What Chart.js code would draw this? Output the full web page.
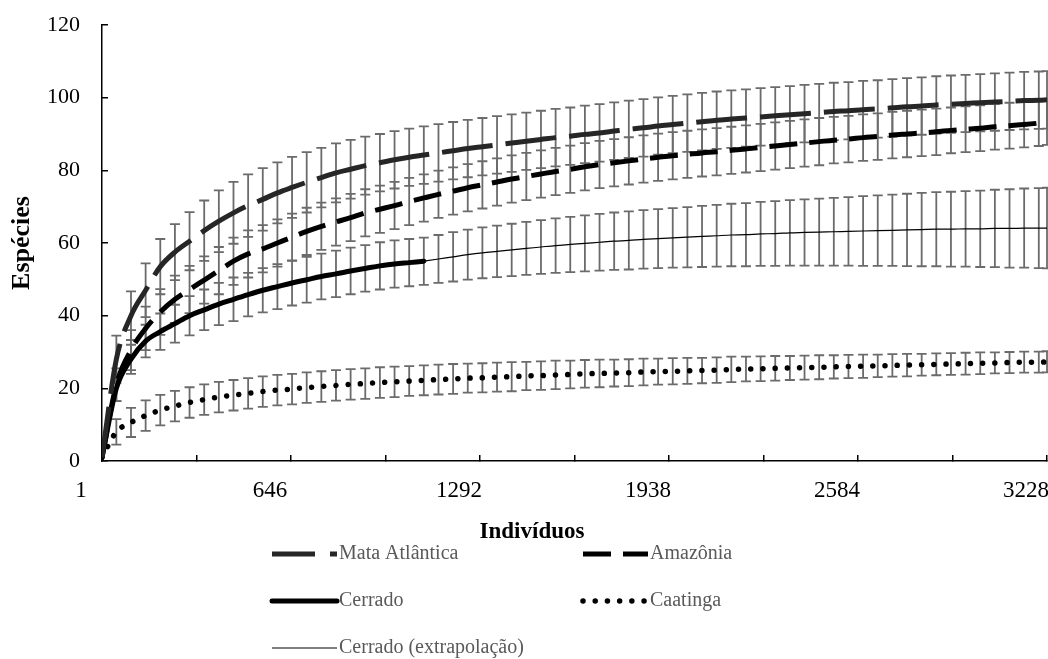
<!DOCTYPE html>
<html lang="pt">
<head>
<meta charset="utf-8">
<title>Curvas de rarefação</title>
<script src="https://cdn.jsdelivr.net/npm/chart.js@4.4.1/dist/chart.umd.min.js"></script>
<style>
    html, body { margin: 0; padding: 0; background: #fff; overflow: hidden; }
</style>
</head>
<body>
<canvas id="chart" width="1048" height="659"></canvas>
<script>
// Indivíduos amostrados (eixo x)
const individuos = [
    1, 50, 100, 150, 200, 250, 300, 350, 400, 450,
    500, 550, 600, 650, 700, 750, 800, 850, 900, 950,
    1000, 1050, 1100, 1150, 1200, 1250, 1300, 1350, 1400, 1450,
    1500, 1550, 1600, 1650, 1700, 1750, 1800, 1850, 1900, 1950,
    2000, 2050, 2100, 2150, 2200, 2250, 2300, 2350, 2400, 2450,
    2500, 2550, 2600, 2650, 2700, 2750, 2800, 2850, 2900, 2950,
    3000, 3050, 3100, 3150, 3200, 3228
];
const xTickLabels = ['1', '646', '1292', '1938', '2584', '3228'];
const yTicks = [0, 20, 40, 60, 80, 100, 120];
const xTitle = 'Indivíduos';
const yTitle = 'Espécies';

const mataAtlantica = [
    1, 28, 40, 47, 53.5, 57.5, 60.5, 63.4, 66, 68.3,
    70.3, 72, 73.8, 75.3, 76.7, 78, 79.3, 80.3, 81.3, 82.1,
    82.9, 83.6, 84.2, 84.8, 85.4, 86, 86.5, 87, 87.5, 88,
    88.5, 89, 89.4, 89.9, 90.3, 90.8, 91.3, 91.7, 92.2, 92.6,
    93, 93.4, 93.8, 94.1, 94.4, 94.7, 95, 95.3, 95.6, 95.9,
    96.2, 96.4, 96.7, 96.9, 97.2, 97.5, 97.7, 98, 98.2, 98.4,
    98.6, 98.8, 99, 99.2, 99.3, 99.4
];
const mataAtlanticaErro = [
    0, 6.5, 6.7, 7.4, 7.6, 7.7, 8, 8.3, 8.5, 8.5,
    8.6, 8.6, 8.4, 8.4, 8.3, 8.2, 8.1, 8.1, 8, 7.9,
    7.9, 7.9, 7.9, 7.9, 7.9, 7.9, 7.9, 7.9, 7.9, 7.9,
    7.9, 7.9, 7.9, 7.9, 7.9, 7.9, 7.9, 7.9, 7.9, 7.9,
    7.9, 7.9, 7.9, 7.9, 7.9, 7.9, 7.9, 7.9, 7.9, 7.9,
    7.9, 7.9, 7.9, 7.9, 7.9, 7.9, 7.9, 7.9, 7.9, 7.9,
    7.9, 7.9, 7.9, 7.9, 7.9, 7.9
];

const amazonia = [
    1, 21, 30.5, 36.5, 41, 44.5, 47.2, 49.8, 52.4, 55,
    57, 58.4, 60, 61.6, 63.2, 64.6, 65.8, 67, 68.3, 69.3,
    70.3, 71.4, 72.4, 73.4, 74.3, 75.2, 76, 76.8, 77.6, 78.3,
    79, 79.7, 80.3, 81, 81.6, 82.1, 82.6, 83.1, 83.6, 84,
    84.4, 84.8, 85.1, 85.5, 85.9, 86.3, 86.7, 87.1, 87.5, 87.9,
    88.3, 88.6, 89, 89.3, 89.7, 90, 90.3, 90.6, 91, 91.3,
    91.6, 92, 92.3, 92.6, 93, 93.3
];
const amazoniaErro = [
    0, 4.5, 5.5, 6, 6.3, 6.5, 6.5, 6.5, 6.5, 6.5,
    6.5, 6.5, 6.5, 6.5, 6.5, 6.5, 6.5, 6.5, 6.5, 6.5,
    6.5, 6.5, 6.5, 6.5, 6.5, 6.5, 6.5, 6.5, 6.5, 6.5,
    6.5, 6.5, 6.5, 6.5, 6.5, 6.5, 6.5, 6.5, 6.5, 6.5,
    6.5, 6.5, 6.5, 6.5, 6.5, 6.5, 6.5, 6.5, 6.5, 6.5,
    6.4, 6.4, 6.4, 6.4, 6.4, 6.4, 6.4, 6.4, 6.3, 6.3,
    6.3, 6.3, 6.3, 6.3, 6.3, 6.3
];

// Cerrado observado: 1 ... 1100 indivíduos
const cerrado = [
    1, 20, 28, 33, 35.6, 37.8, 40, 41.6, 43.2, 44.5,
    45.8, 47, 48, 49, 49.9, 50.8, 51.5, 52.3, 53, 53.7,
    54.2, 54.6, 55
];
const cerradoErro = [
    0, 3.5, 4, 4.5, 5, 5.2, 5.4, 5.6, 5.8, 6,
    6, 6.1, 6.2, 6.2, 6.3, 6.3, 6.4, 6.4, 6.4, 6.5,
    6.5, 6.5, 6.5
];

// Cerrado extrapolado: 1100 ... 3228 indivíduos
const cerradoExtrap = [
    55, 55.6, 56.2, 56.8, 57.3, 57.7, 58.1, 58.5, 58.9, 59.3,
    59.6, 59.9, 60.2, 60.5, 60.7, 61, 61.2, 61.4, 61.6, 61.8,
    62, 62.2, 62.3, 62.5, 62.6, 62.8, 62.9, 63, 63.1, 63.2,
    63.3, 63.4, 63.5, 63.6, 63.7, 63.8, 63.8, 63.9, 63.9, 64,
    64, 64.1, 64.1, 64.1
];
const cerradoExtrapErro = [
    0, 6.6, 6.8, 6.9, 7, 7.1, 7.2, 7.3, 7.4, 7.5,
    7.6, 7.7, 7.8, 7.9, 8, 8.05, 8.1, 8.2, 8.3, 8.4,
    8.5, 8.6, 8.7, 8.8, 8.9, 9, 9.1, 9.2, 9.3, 9.45,
    9.6, 9.7, 9.8, 9.95, 10.1, 10.2, 10.3, 10.4, 10.5, 10.65,
    10.8, 10.9, 11, 11.1
];

const caatinga = [
    1, 8, 10.6, 12.5, 14, 15.1, 16.1, 16.9, 17.6, 18.1,
    18.6, 19.1, 19.5, 19.8, 20.2, 20.5, 20.8, 21.1, 21.3, 21.6,
    21.8, 22, 22.2, 22.4, 22.6, 22.8, 22.9, 23.1, 23.2, 23.4,
    23.5, 23.7, 23.8, 24, 24.1, 24.2, 24.3, 24.5, 24.6, 24.7,
    24.8, 24.9, 25, 25.2, 25.3, 25.4, 25.5, 25.6, 25.7, 25.8,
    25.9, 26, 26.1, 26.2, 26.3, 26.4, 26.5, 26.6, 26.7, 26.8,
    26.9, 27, 27.1, 27.2, 27.2, 27.3
];
const caatingaErro = [
    0, 3.5, 4, 4.2, 4.2, 4.2, 4.2, 4.2, 4.2, 4.2,
    4.2, 4.2, 4.2, 4.2, 4.2, 4.2, 4.2, 4.2, 4.2, 4.2,
    4.2, 4.1, 4.1, 4.1, 4.1, 4.0, 4.0, 4.0, 4.0, 3.9,
    3.9, 3.9, 3.8, 3.8, 3.8, 3.7, 3.7, 3.7, 3.6, 3.6,
    3.6, 3.5, 3.5, 3.5, 3.4, 3.4, 3.4, 3.3, 3.3, 3.3,
    3.2, 3.2, 3.2, 3.1, 3.1, 3.1, 3.0, 3.0, 3.0, 3.0,
    3.0, 2.9, 2.9, 2.9, 2.9, 2.9
];

const fontFamily = '"Liberation Serif", "Times New Roman", serif';

function toPoints(values, offset) {
    return values.map((v, i) => ({ x: individuos[i + offset], y: v }));
}

// barras de erro desenhadas por baixo das linhas
const errorBarsPlugin = {
    id: 'errorBars',
    beforeDatasetsDraw(chart) {
        const ctx = chart.ctx;
        const xs = chart.scales.x;
        const ys = chart.scales.y;
        ctx.save();
        ctx.strokeStyle = '#6b6b6b';
        ctx.lineWidth = 1.8;
        ctx.setLineDash([]);
        chart.data.datasets.forEach(ds => {
            if (!ds.errors) return;
            ds.data.forEach((p, i) => {
                const e = ds.errors[i];
                if (p.y == null || !e) return;
                const px = xs.getPixelForValue(p.x);
                const top = ys.getPixelForValue(p.y + e);
                const bot = ys.getPixelForValue(p.y - e);
                ctx.beginPath();
                ctx.moveTo(px, top);
                ctx.lineTo(px, bot);
                ctx.moveTo(px - 5, top);
                ctx.lineTo(px + 5, top);
                ctx.moveTo(px - 5, bot);
                ctx.lineTo(px + 5, bot);
                ctx.stroke();
            });
        });
        ctx.restore();
    }
};

// título do eixo x (deslocado para a esquerda, como no original) e legenda em duas colunas
const legendPlugin = {
    id: 'gridLegend',
    afterDraw(chart) {
        const ctx = chart.ctx;
        const area = chart.chartArea;
        ctx.save();
        ctx.fillStyle = '#000';
        ctx.font = 'bold 23px ' + fontFamily;
        ctx.textAlign = 'center';
        ctx.textBaseline = 'middle';
        ctx.fillText(xTitle, area.left + 430, area.bottom + 71);

        const cols = [area.left + 170, area.left + 481];
        const rows = [area.bottom + 93, area.bottom + 140, area.bottom + 187];
        const sampleWidth = 65;
        chart.data.datasets.forEach((ds, i) => {
            const x = cols[i % 2];
            const y = rows[Math.floor(i / 2)];
            ctx.beginPath();
            ctx.strokeStyle = ds.borderColor;
            ctx.lineWidth = ds.borderWidth;
            ctx.lineCap = ds.borderCapStyle || 'butt';
            ctx.setLineDash(ds.legendDash || ds.borderDash || []);
            ctx.moveTo(x, y);
            ctx.lineTo(x + sampleWidth, y);
            ctx.stroke();
            ctx.setLineDash([]);
            ctx.fillStyle = '#595959';
            ctx.font = '20px ' + fontFamily;
            ctx.textAlign = 'left';
            ctx.textBaseline = 'middle';
            ctx.fillText(ds.label, x + sampleWidth + 2, y);
        });
        ctx.restore();
    }
};

const datasets = [
    {
        label: 'Mata Atlântica',
        data: toPoints(mataAtlantica, 0),
        errors: mataAtlanticaErro,
        borderColor: '#262626',
        borderWidth: 5,
        borderDash: [51, 13],
        legendDash: [43, 15, 7, 15]
    },
    {
        label: 'Amazônia',
        data: toPoints(amazonia, 0),
        errors: amazoniaErro,
        borderColor: '#000000',
        borderWidth: 5,
        borderDash: [28, 12]
    },
    {
        label: 'Cerrado',
        data: toPoints(cerrado, 0),
        errors: cerradoErro,
        borderColor: '#000000',
        borderWidth: 5,
        borderCapStyle: 'round'
    },
    {
        label: 'Caatinga',
        data: toPoints(caatinga, 0),
        errors: caatingaErro,
        borderColor: '#000000',
        borderWidth: 5.5,
        borderCapStyle: 'round',
        borderDash: [0.01, 12.2]
    },
    {
        label: 'Cerrado (extrapolação)',
        data: toPoints(cerradoExtrap, individuos.indexOf(1100)),
        errors: cerradoExtrapErro,
        borderColor: '#000000',
        borderWidth: 1.2
    }
];

datasets.forEach(ds => {
    ds.pointRadius = 0;
    ds.fill = false;
    ds.cubicInterpolationMode = 'monotone';
});

const xMin = individuos[0];
const xMax = individuos[individuos.length - 1];

new Chart(document.getElementById('chart'), {
    type: 'line',
    data: { datasets: datasets },
    options: {
        responsive: false,
        animation: false,
        layout: { padding: { top: 25, right: 1, bottom: 114.5, left: 0 } },
        plugins: {
            legend: { display: false },
            tooltip: { enabled: false }
        },
        scales: {
            x: {
                type: 'linear',
                min: xMin,
                max: xMax,
                afterBuildTicks: scale => {
                    scale.ticks = [];
                    for (let k = 0; k <= 10; k++) {
                        scale.ticks.push({ value: xMin + k * (xMax - xMin) / 10 });
                    }
                },
                afterFit: scale => {
                    scale.height = 83.5;
                    scale.paddingLeft = 0;
                    scale.paddingRight = 0;
                },
                ticks: {
                    autoSkip: false,
                    maxRotation: 0,
                    padding: 21.7,
                    labelOffset: -21,
                    color: '#000',
                    font: { family: fontFamily, size: 23 },
                    callback: (value, index) => index % 2 === 0 ? xTickLabels[index / 2] : ''
                },
                grid: {
                    drawOnChartArea: false,
                    tickLength: -6,
                    color: '#000',
                    lineWidth: 1.5
                },
                border: { color: '#000', width: 1.5 }
            },
            y: {
                min: 0,
                max: 120,
                afterBuildTicks: scale => {
                    scale.ticks = yTicks.map(v => ({ value: v }));
                },
                afterFit: scale => {
                    scale.width = 102;
                    scale.paddingTop = 0;
                    scale.paddingBottom = 0;
                },
                ticks: {
                    padding: 28,
                    color: '#000',
                    font: { family: fontFamily, size: 22 }
                },
                grid: {
                    drawOnChartArea: false,
                    tickLength: -6,
                    color: '#000',
                    lineWidth: 1.5
                },
                border: { color: '#000', width: 1.5 },
                title: {
                    display: true,
                    text: yTitle,
                    color: '#000',
                    font: { family: fontFamily, size: 26, weight: 'bold' },
                    padding: { top: 7, bottom: 8 }
                }
            }
        }
    },
    plugins: [errorBarsPlugin, legendPlugin]
});
</script>
</body>
</html>
